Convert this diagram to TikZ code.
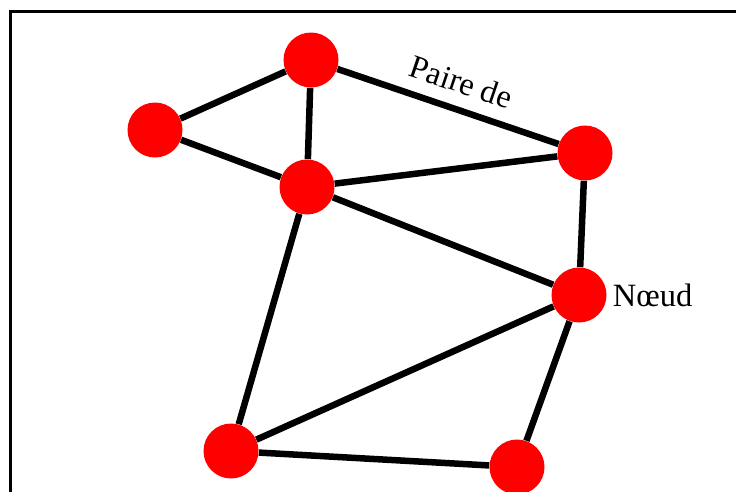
\documentclass[tikz,border=0pt]{standalone}
\usepackage{fontspec}
\setmainfont{Liberation Serif}
\usetikzlibrary{positioning}

\begin{document}
\begin{tikzpicture}[
  x=0.02cm, y=-0.02cm,
  vertex/.style={circle,fill=red,draw=none,minimum size=1.1cm,inner sep=0pt},
  link/.style={line width=0.13cm,draw=black},
  labl/.style={font=\fontsize{18.5}{22}\selectfont,inner sep=1pt,text=black}
]
\clip (0,0) rectangle (736,491);

% Frame
\draw[line width=0.055cm] (10.5,11.5) rectangle (800,560);

% Vertices
\node[vertex] (A) at (311,60)  {};
\node[vertex] (B) at (155,130) {};
\node[vertex] (C) at (307,187) {};
\node[vertex] (D) at (585,153) {};
\node[vertex] (E) at (579,295) {};
\node[vertex] (F) at (231,451) {};
\node[vertex] (G) at (517,467) {};

% Edges
\draw[link] (A) -- (B);
\draw[link] (A) -- (C);
\draw[link] (A) -- node[labl,sloped,above,pos=0.52,yshift=0.22cm] {Paire de} (D);
\draw[link] (B) -- (C);
\draw[link] (C) -- (D);
\draw[link] (C) -- (E);
\draw[link] (C) -- (F);
\draw[link] (D) -- (E);
\draw[link] (E) -- (F);
\draw[link] (E) -- (G);
\draw[link] (F) -- (G);

% Vertex label
\node[labl,right=0.08cm of E] (lblE) {Nœud};

\end{tikzpicture}
\end{document}
